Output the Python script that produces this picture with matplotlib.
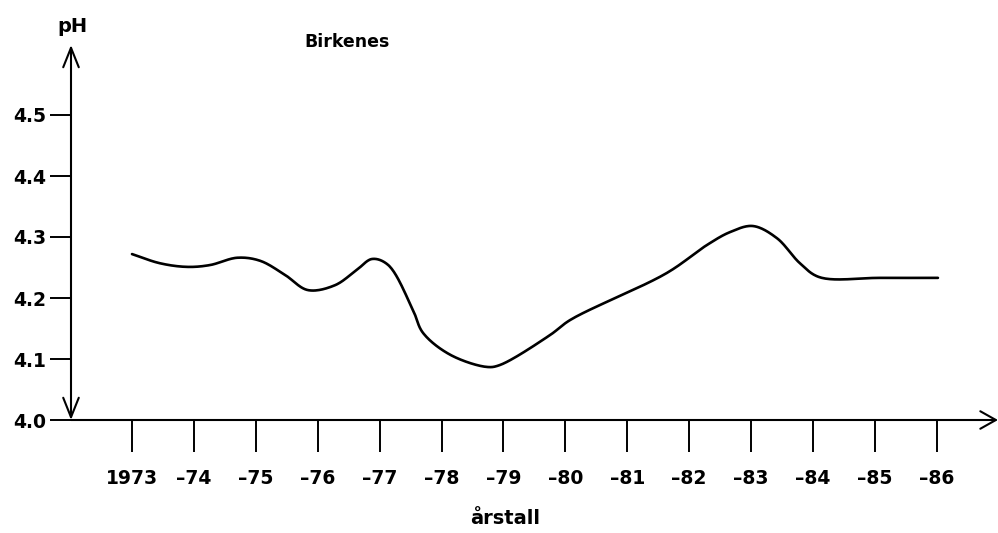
import numpy as np
import matplotlib
matplotlib.use("Agg")
import matplotlib.pyplot as plt

# ---- data ----
years = [1973.00, 1973.45, 1973.89, 1974.26, 1974.70, 1975.07, 1975.47, 1975.84,
         1976.28, 1976.63, 1976.88, 1977.14, 1977.54, 1977.70, 1978.14, 1978.73,
         1978.94, 1979.75, 1980.08, 1981.64, 1982.29, 1982.66, 1983.03, 1983.42,
         1983.79, 1984.11, 1985.08, 1986.02]
ph = [4.272, 4.257, 4.251, 4.254, 4.266, 4.261, 4.238, 4.213,
      4.221, 4.246, 4.264, 4.254, 4.180, 4.143, 4.107, 4.087,
      4.090, 4.139, 4.164, 4.241, 4.287, 4.308, 4.318, 4.298,
      4.257, 4.234, 4.233, 4.233]

x_ticks = list(range(1973, 1987))
x_labels = ["1973", "–74", "–75", "–76", "–77", "–78", "–79", "–80",
            "–81", "–82", "–83", "–84", "–85", "–86"]
y_ticks = [4.0, 4.1, 4.2, 4.3, 4.4, 4.5]
y_labels = ["4.0", "4.1", "4.2", "4.3", "4.4", "4.5"]

title = "Birkenes"
y_name = "pH"
x_name = "årstall"


def centripetal_cr(x, y, sx=1.0, sy=1.0, n=24, alpha=0.5):
    """Smooth rendering through the given points (centripetal Catmull-Rom)."""
    P = np.column_stack([np.asarray(x, float) * sx, np.asarray(y, float) * sy])
    P = np.vstack([2 * P[0] - P[1], P, 2 * P[-1] - P[-2]])
    out = []
    for i in range(1, len(P) - 2):
        p0, p1, p2, p3 = P[i - 1], P[i], P[i + 1], P[i + 2]
        t0 = 0.0
        t1 = t0 + np.linalg.norm(p1 - p0) ** alpha
        t2 = t1 + np.linalg.norm(p2 - p1) ** alpha
        t3 = t2 + np.linalg.norm(p3 - p2) ** alpha
        t = np.linspace(t1, t2, n, endpoint=False)[:, None]
        a1 = (t1 - t) / (t1 - t0) * p0 + (t - t0) / (t1 - t0) * p1
        a2 = (t2 - t) / (t2 - t1) * p1 + (t - t1) / (t2 - t1) * p2
        a3 = (t3 - t) / (t3 - t2) * p2 + (t - t2) / (t3 - t2) * p3
        b1 = (t2 - t) / (t2 - t0) * a1 + (t - t0) / (t2 - t0) * a2
        b2 = (t3 - t) / (t3 - t1) * a2 + (t - t1) / (t3 - t1) * a3
        c = (t2 - t) / (t2 - t1) * b1 + (t - t1) / (t2 - t1) * b2
        out.append(c)
    out.append(P[-2][None, :])
    out = np.vstack(out)
    return out[:, 0] / sx, out[:, 1] / sy


W, H = 998, 533
fig = plt.figure(figsize=(W / 100, H / 100), dpi=100)
fig.patch.set_facecolor("white")

ax = fig.add_axes([71 / W, (H - 420) / H, (W - 71) / W, (420 - 45) / H])
ax.set_xlim(1973 + (71 - 132) / 61.9, 1973 + (W - 132) / 61.9)
ax.set_ylim(4.0, 4.0 + 375 / 610)
for s in ax.spines.values():
    s.set_visible(False)

cx, cy = centripetal_cr(years, ph, sx=61.9, sy=610.0)
ax.plot(cx, cy, color="black", lw=1.9, solid_capstyle="round")

# axes with arrows
ax.annotate("", xy=(0, 1), xytext=(0, 0), xycoords="axes fraction",
            arrowprops=dict(arrowstyle="<->,head_length=1.0,head_width=0.4",
                            lw=1.5, color="black", mutation_scale=14,
                            shrinkA=0, shrinkB=0))
ax.annotate("", xy=(1, 0), xytext=(0, 0), xycoords="axes fraction",
            arrowprops=dict(arrowstyle="->,head_length=0.8,head_width=0.45",
                            lw=1.5, color="black", mutation_scale=14,
                            shrinkA=0, shrinkB=0))

bold = dict(family="DejaVu Sans", weight="bold")
ax.set_xticks(x_ticks)
ax.set_xticklabels(x_labels, fontsize=13.5, **bold)
ax.set_yticks(y_ticks)
ax.set_yticklabels(y_labels, fontsize=13.5, **bold)
ax.tick_params(axis="x", direction="out", length=23, width=1.4, pad=12)
ax.tick_params(axis="y", direction="out", length=15, width=1.4, pad=3)

fig.text(72 / W, 1 - 26 / H, y_name, ha="center", va="center", fontsize=14, **bold)
fig.text(347 / W, 1 - 42 / H, title, ha="center", va="center", fontsize=12.5, **bold)
fig.text(505 / W, 1 - 519 / H, x_name, ha="center", va="center", fontsize=14, **bold)

fig.savefig("out.png", dpi=100, facecolor="white")
